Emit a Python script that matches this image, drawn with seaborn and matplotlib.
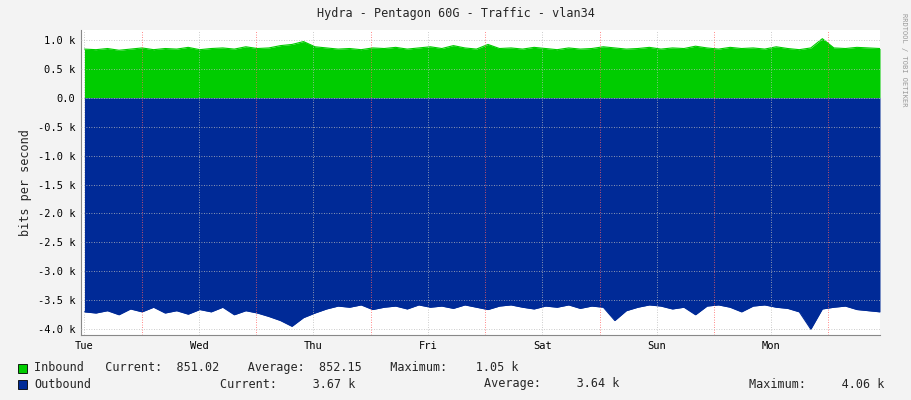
import numpy as np
import matplotlib
matplotlib.use("Agg")
import matplotlib.pyplot as plt
import seaborn as sns

# values in k bits/s, sampled evenly over the week
inbound = [0.84,0.83,0.85,0.82,0.84,0.86,0.83,0.85,0.84,0.87,0.83,0.85,0.86,0.84,0.88,0.85,0.86,0.90,0.92,0.97,
           0.88,0.86,0.84,0.85,0.83,0.86,0.85,0.87,0.84,0.86,0.88,0.85,0.90,0.86,0.84,0.92,0.85,0.86,0.84,0.87,
           0.85,0.83,0.86,0.84,0.85,0.88,0.86,0.84,0.85,0.87,0.84,0.86,0.85,0.89,0.86,0.84,0.87,0.85,0.86,0.84,
           0.88,0.85,0.83,0.86,1.02,0.86,0.85,0.87,0.86,0.85]
outbound = [3.70,3.72,3.68,3.75,3.65,3.70,3.62,3.72,3.68,3.74,3.66,3.70,3.62,3.75,3.68,3.72,3.78,3.85,3.95,3.80,
            3.72,3.65,3.60,3.62,3.58,3.66,3.62,3.60,3.65,3.58,3.62,3.60,3.64,3.58,3.62,3.66,3.60,3.58,3.62,3.65,
            3.60,3.62,3.58,3.64,3.60,3.62,3.85,3.68,3.62,3.58,3.60,3.65,3.62,3.75,3.60,3.58,3.62,3.70,3.60,3.58,
            3.62,3.64,3.70,4.00,3.65,3.62,3.60,3.66,3.68,3.70]
days = ["Tue", "Wed", "Thu", "Fri", "Sat", "Sun", "Mon"]
yticks = [1.0, 0.5, 0.0, -0.5, -1.0, -1.5, -2.0, -2.5, -3.0, -3.5, -4.0]

sns.set_style("white")
plt.rcParams['font.family'] = ['DejaVu Sans Mono']
plt.rcParams['font.size'] = 7.5

x = np.linspace(0.0, 6.95, len(inbound))
out_neg = -np.array(outbound)

fig = plt.figure(figsize=(9.11, 4.0), dpi=100, facecolor="#f3f3f3")
ax = fig.add_axes([81/911, 65/400, 799/911, 305/400])
ax.set_facecolor("white")

ax.fill_between(x, 0, inbound, color="#00cc00", lw=0)
ax.fill_between(x, 0, out_neg, color="#002a97", lw=0)
sns.lineplot(x=x, y=inbound, ax=ax, color="#00cc00", lw=0.8)
sns.lineplot(x=x, y=out_neg, ax=ax, color="#002a97", lw=0.8)

ax.set_xlim(-0.03, 6.95)
ax.set_ylim(-4.1, 1.17)
for k in range(7):
    ax.axvline(k, color="#bbbbbb", lw=0.6, ls=(0, (1, 2)), zorder=3)
    ax.axvline(k + 0.5, color="#ff6060", lw=0.6, ls=(0, (1, 2)), zorder=3)
for v in yticks:
    ax.axhline(v, color="#bbbbbb", lw=0.6, ls=(0, (1, 2)), zorder=3)

ax.set_xticks(range(7))
ax.set_xticklabels(days)
ax.set_yticks(yticks)
ax.set_yticklabels([("%.1f k" % v) if v != 0 else "0.0" for v in yticks])
ax.tick_params(length=2, pad=2, colors="black")
for s in ["top", "right"]:
    ax.spines[s].set_visible(False)
ax.spines["left"].set_color("#888888")
ax.spines["bottom"].set_color("#888888")
ax.set_ylabel("bits per second", fontsize=8.5)

fig.text(0.5, 0.965, "Hydra - Pentagon 60G - Traffic - vlan34", ha="center", va="center", fontsize=8.5)
fig.text(0.992, 0.85, "RRDTOOL / TOBI OETIKER", rotation=270, ha="center", va="center",
         fontsize=5, color="#999999")

# legend rows
fig.patches.append(plt.Rectangle((18/911, 1 - 373/400), 9/911, 9/400, transform=fig.transFigure,
                                 facecolor="#00cc00", edgecolor="black", lw=0.6))
fig.patches.append(plt.Rectangle((18/911, 1 - 389/400), 9/911, 9/400, transform=fig.transFigure,
                                 facecolor="#002a97", edgecolor="black", lw=0.6))
fig.text(34/911, 1 - 368/400, "Inbound   Current:  851.02    Average:  852.15    Maximum:    1.05 k",
         va="center", fontsize=8.5)
fig.text(34/911, 1 - 384/400, "Outbound", va="center", fontsize=8.5)
fig.text(220/911, 1 - 384/400, "Current:     3.67 k", va="center", fontsize=8.5)
fig.text(484/911, 1 - 384/400, "Average:     3.64 k", va="center", fontsize=8.5)
fig.text(749/911, 1 - 384/400, "Maximum:     4.06 k", va="center", fontsize=8.5)

fig.savefig("out.png", dpi=100, facecolor=fig.get_facecolor())
